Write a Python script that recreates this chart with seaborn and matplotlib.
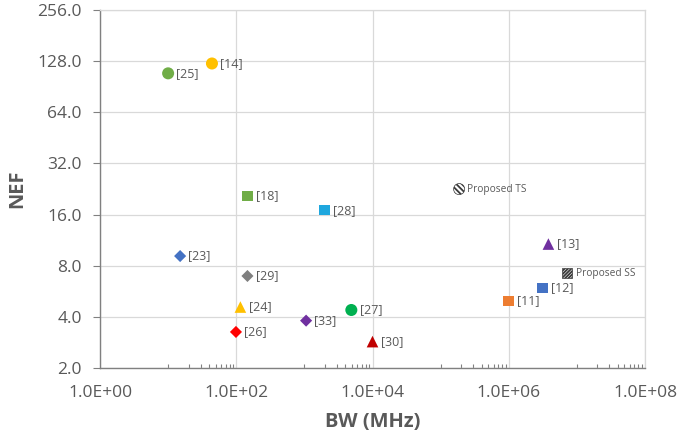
import numpy as np
import pandas as pd
import matplotlib
matplotlib.use("Agg")
import matplotlib.pyplot as plt
import matplotlib.ticker as mticker
import seaborn as sns

# ---- data ----
labels = ["[25]", "[14]", "[18]", "[28]", "[23]", "[29]", "[24]", "[26]",
          "[33]", "[27]", "[30]", "[11]", "[12]", "[13]", "Proposed TS", "Proposed SS"]
bw_mhz = [10, 44, 146, 1965, 15, 146, 115, 99,
          1060, 4890, 10000, 1.0e6, 3.12e6, 3.82e6, 1.87e5, 7.26e6]
nef = [108.5, 124, 20.6, 17.0, 9.12, 6.96, 4.57, 3.26,
       3.80, 4.39, 2.86, 4.96, 5.91, 10.73, 22.6, 7.22]
y_ticks = [2, 4, 8, 16, 32, 64, 128, 256]
x_ticks = [1e0, 1e2, 1e4, 1e6, 1e8]

# ---- styles ----
styles = {
    "[25]": ("o", "#70AD47"), "[14]": ("o", "#FFC000"), "[18]": ("s", "#70AD47"),
    "[28]": ("s", "#1FA7DE"), "[23]": ("D", "#4472C4"), "[29]": ("D", "#7F7F7F"),
    "[24]": ("^", "#FFC000"), "[26]": ("D", "#FF0000"), "[33]": ("D", "#7030A0"),
    "[27]": ("o", "#00B050"), "[30]": ("^", "#C00000"), "[11]": ("s", "#ED7D31"),
    "[12]": ("s", "#4472C4"), "[13]": ("^", "#7030A0"),
    "Proposed TS": ("o", "white"), "Proposed SS": ("s", "white"),
}
sizes = {"o": 75, "s": 60, "D": 38, "^": 70}
hatches = {"Proposed TS": "\\\\\\\\\\\\", "Proposed SS": "//////////"}

df = pd.DataFrame({"label": labels, "bw": bw_mhz, "nef": nef})

sns.set_theme(style="white")
plt.rcParams["font.family"] = ["Open Sans", "DejaVu Sans"]
plt.rcParams["hatch.linewidth"] = 1.3

fig = plt.figure(figsize=(6.8, 4.38), dpi=100)
ax = fig.add_axes([100 / 680, 1 - 368 / 438, 545 / 680, 358 / 438])

for _, row in df.iterrows():
    mk, col = styles[row["label"]]
    prop = row["label"] in hatches
    sns.scatterplot(x=[row["bw"]], y=[row["nef"]], ax=ax, marker=mk,
                    s=sizes[mk] * (0.85 if prop else 1.0),
                    color=col, edgecolor="#3A3A3A" if prop else "none",
                    linewidth=0.5 if prop else 0, zorder=3, legend=False)
    if prop:
        ax.collections[-1].set_hatch(hatches[row["label"]])
    ax.annotate(row["label"], (row["bw"], row["nef"]), xytext=(6, 0),
                textcoords="offset points", va="center", ha="left",
                fontsize=7.3 if prop else 9, color="#595959", zorder=4)

ax.set_xscale("log")
ax.set_yscale("log", base=2)
ax.set_xlim(1, 1e8)
ax.set_ylim(2, 256)

ax.xaxis.set_major_locator(mticker.FixedLocator(x_ticks))
ax.xaxis.set_major_formatter(mticker.FuncFormatter(lambda v, p: "{:.1E}".format(v)))
minor = [10 ** e * k for e in (1, 3, 5, 7) for k in range(1, 10)]
ax.xaxis.set_minor_locator(mticker.FixedLocator(minor))
ax.xaxis.set_minor_formatter(mticker.NullFormatter())
ax.yaxis.set_major_locator(mticker.FixedLocator(y_ticks))
ax.yaxis.set_major_formatter(mticker.FuncFormatter(lambda v, p: "%.1f" % v))
ax.yaxis.set_minor_locator(mticker.NullLocator())

ax.grid(True, which="major", color="#D9D9D9", linewidth=0.9)
ax.set_axisbelow(True)

for s in ["top", "right"]:
    ax.spines[s].set_color("#D9D9D9")
    ax.spines[s].set_linewidth(0.9)
for s in ["left", "bottom"]:
    ax.spines[s].set_color("#808080")
    ax.spines[s].set_linewidth(1.0)

ax.tick_params(axis="x", which="major", length=0, pad=12, labelsize=12.5, labelcolor="#595959")
ax.tick_params(axis="x", which="minor", direction="in", length=3, width=0.8, color="#808080",
               bottom=True)
ax.tick_params(axis="y", which="major", direction="out", length=5, width=0.8, color="#808080",
               pad=8, labelsize=12.5, labelcolor="#595959", left=True)

ax.set_xlabel("BW (MHz)", fontsize=14.5, fontweight="bold", color="#595959")
ax.set_ylabel("NEF", fontsize=14.5, fontweight="bold", color="#595959")
ax.xaxis.set_label_coords(0.5, (368 - 412) / 358)
ax.yaxis.set_label_coords((27 - 100) / 545, 0.5)

fig.savefig("out.png", dpi=100)
